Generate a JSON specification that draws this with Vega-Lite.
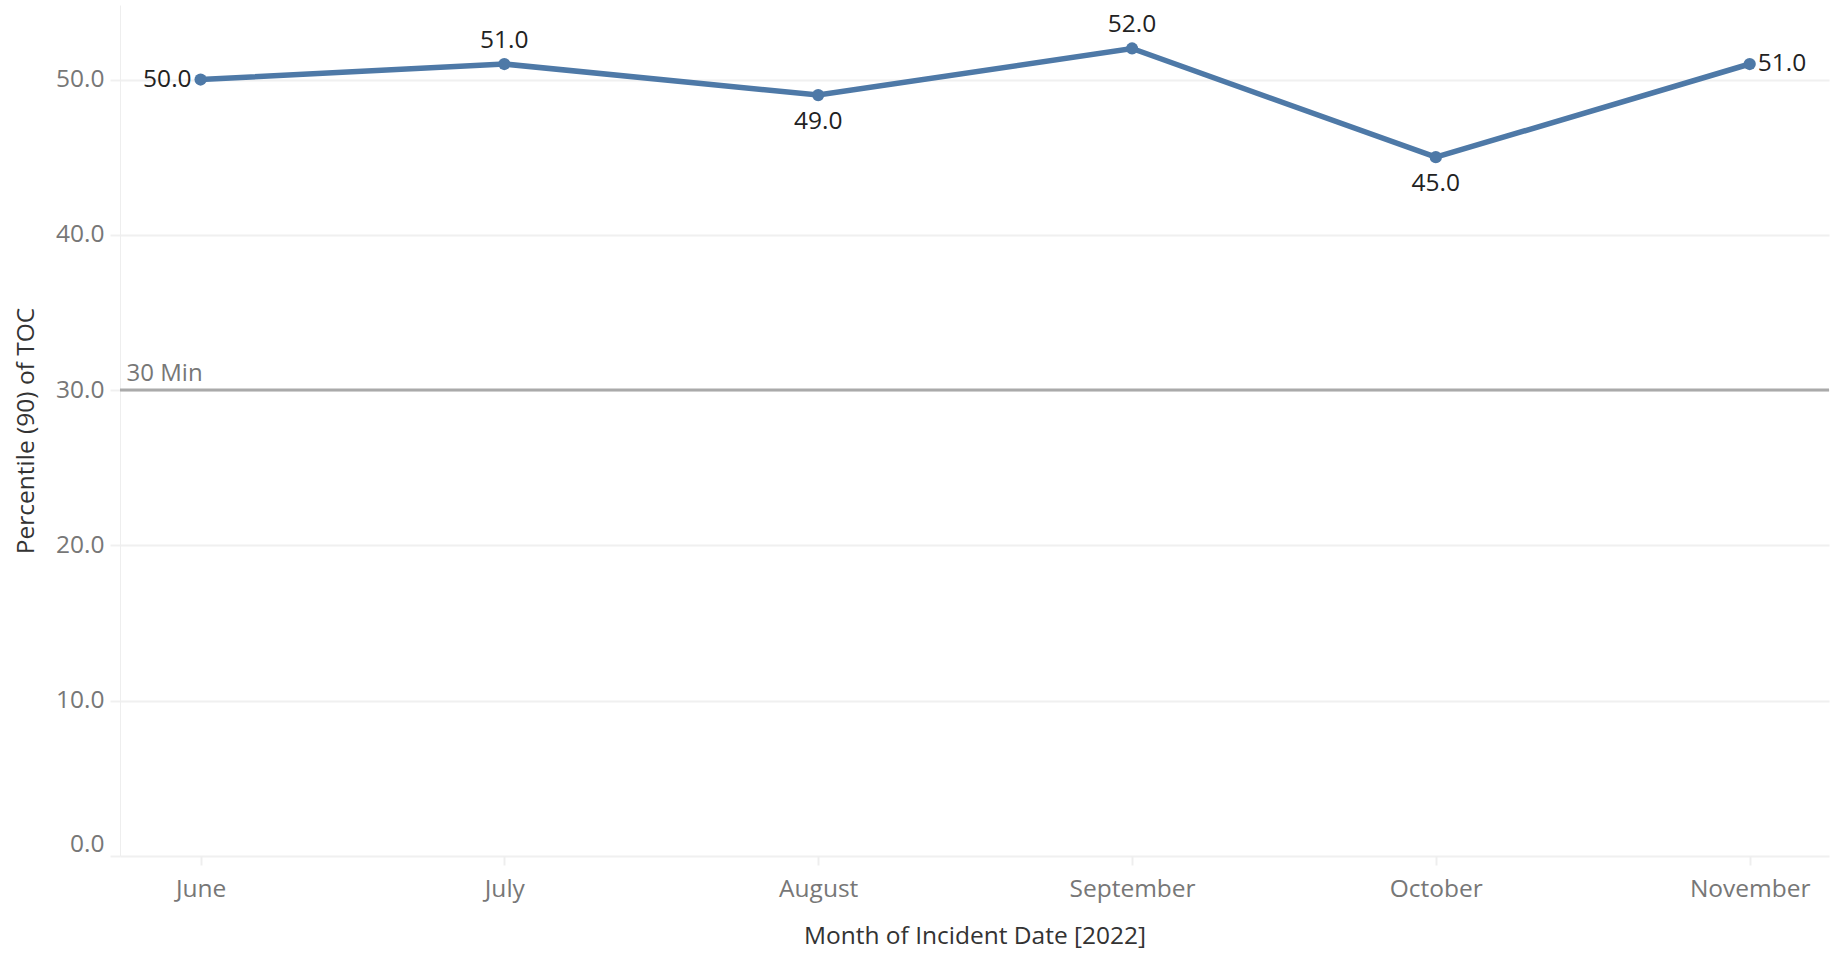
{
  "$schema": "https://vega.github.io/schema/vega-lite/v6.json",
  "width": 1709,
  "height": 851,
  "autosize": {"type": "none"},
  "padding": {"left": 120, "top": 5, "right": 10, "bottom": 100},
  "background": "white",
  "config": {
    "view": {"stroke": null},
    "font": "Open Sans"
  },
  "datasets": {
    "toc": [
      {"month": "2022-06-01", "p90": 50.0},
      {"month": "2022-07-01", "p90": 51.0},
      {"month": "2022-08-01", "p90": 49.0},
      {"month": "2022-09-01", "p90": 52.0},
      {"month": "2022-10-01", "p90": 45.0},
      {"month": "2022-11-01", "p90": 51.0}
    ],
    "ref": [{"ref": 30, "label": "30 Min"}]
  },
  "encoding": {
    "x": {
      "field": "month",
      "type": "temporal",
      "scale": {
        "type": "utc",
        "domain": [1653354000000, 1667937600000],
        "nice": false
      },
      "axis": {
        "title": "Month of Incident Date [2022]",
        "format": "%B",
        "formatType": "utc",
        "values": [
          {"year": 2022, "month": 6, "date": 1, "utc": true},
          {"year": 2022, "month": 7, "date": 1, "utc": true},
          {"year": 2022, "month": 8, "date": 1, "utc": true},
          {"year": 2022, "month": 9, "date": 1, "utc": true},
          {"year": 2022, "month": 10, "date": 1, "utc": true},
          {"year": 2022, "month": 11, "date": 1, "utc": true}
        ],
        "grid": false,
        "domain": false,
        "ticks": true,
        "tickSize": 9,
        "tickWidth": 2,
        "tickColor": "#eeeeee",
        "labelFont": "Open Sans",
        "labelFontSize": 24.5,
        "labelColor": "#777777",
        "labelPadding": 12,
        "titleFont": "Open Sans",
        "titleFontSize": 24.5,
        "titleFontWeight": "normal",
        "titleColor": "#333333",
        "titlePadding": 24
      }
    },
    "y": {
      "field": "p90",
      "type": "quantitative",
      "scale": {"domain": [0, 54.8], "nice": false, "zero": true},
      "axis": {
        "title": "Percentile (90) of TOC",
        "values": [0, 10, 20, 30, 40, 50],
        "format": ".1f",
        "grid": true,
        "gridColor": "#f0f0f0",
        "gridWidth": 2,
        "domain": true,
        "domainColor": "#eeeeee",
        "domainWidth": 1,
        "ticks": true,
        "tickSize": 10,
        "tickWidth": 2,
        "tickColor": "#f0f0f0",
        "labelFont": "Open Sans",
        "labelFontSize": 24.5,
        "labelColor": "#777777",
        "labelPadding": 6,
        "labelFlush": 1,
        "titleFont": "Open Sans",
        "titleFontSize": 24.5,
        "titleFontWeight": "normal",
        "titleColor": "#333333",
        "titleX": -94,
        "titleBaseline": "middle"
      }
    }
  },
  "layer": [
    {
      "data": {"name": "ref"},
      "mark": {"type": "rule", "color": "#aaaaaa", "strokeWidth": 3},
      "encoding": {
        "x": null,
        "y": {"field": "ref", "type": "quantitative"}
      }
    },
    {
      "data": {"name": "toc"},
      "transform": [{"filter": "utcmonth(datum.month) == 5"}],
      "mark": {"type": "text", "align": "left", "baseline": "alphabetic", "dx": -74, "dy": -9, "fontSize": 24, "color": "#777777", "font": "Open Sans"},
      "encoding": {
        "y": {"datum": 30, "type": "quantitative"},
        "text": {"value": "30 Min"}
      }
    },
    {
      "data": {"name": "toc"},
      "mark": {"type": "line", "color": "#4e79a7", "strokeWidth": 5.5}
    },
    {
      "data": {"name": "toc"},
      "mark": {"type": "point", "filled": true, "opacity": 1, "color": "#4e79a7", "size": 150}
    },
    {
      "data": {"name": "toc"},
      "transform": [{"filter": "utcmonth(datum.month) == 6 || utcmonth(datum.month) == 8"}],
      "mark": {"type": "text", "align": "center", "baseline": "alphabetic", "dy": -16, "fontSize": 24.5, "color": "#222222", "font": "Open Sans"},
      "encoding": {"text": {"field": "p90", "type": "quantitative", "format": ".1f"}}
    },
    {
      "data": {"name": "toc"},
      "transform": [{"filter": "utcmonth(datum.month) == 7 || utcmonth(datum.month) == 9"}],
      "mark": {"type": "text", "align": "center", "baseline": "alphabetic", "dy": 34, "fontSize": 24.5, "color": "#222222", "font": "Open Sans"},
      "encoding": {"text": {"field": "p90", "type": "quantitative", "format": ".1f"}}
    },
    {
      "data": {"name": "toc"},
      "transform": [{"filter": "utcmonth(datum.month) == 5"}],
      "mark": {"type": "text", "align": "right", "baseline": "middle", "dx": -9, "fontSize": 24.5, "color": "#222222", "font": "Open Sans"},
      "encoding": {"text": {"field": "p90", "type": "quantitative", "format": ".1f"}}
    },
    {
      "data": {"name": "toc"},
      "transform": [{"filter": "utcmonth(datum.month) == 10"}],
      "mark": {"type": "text", "align": "left", "baseline": "middle", "dx": 8, "fontSize": 24.5, "color": "#222222", "font": "Open Sans"},
      "encoding": {"text": {"field": "p90", "type": "quantitative", "format": ".1f"}}
    }
  ]
}
